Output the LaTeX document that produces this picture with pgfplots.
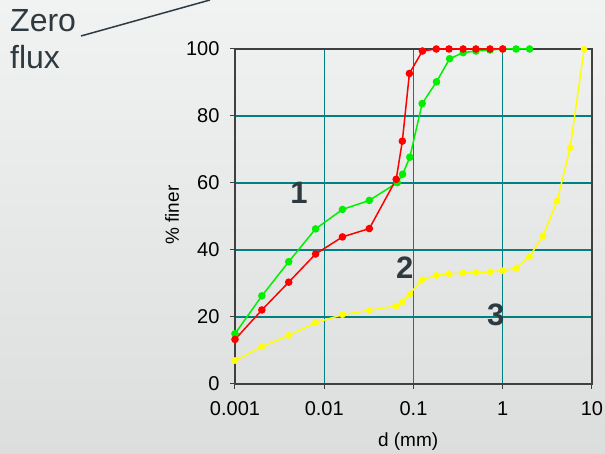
\documentclass[border=0pt]{standalone}
\usepackage{pgfplots}
\pgfplotsset{compat=1.18}
\usepackage{fontspec}
\setmainfont{Liberation Sans}
\definecolor{bgtop}{HTML}{F1F2F2}
\definecolor{bgbot}{HTML}{DCDDDD}
\definecolor{gridc}{HTML}{008080}
\definecolor{txt}{HTML}{2E3A40}
\definecolor{axisc}{HTML}{404040}
\definecolor{gr}{HTML}{00F000}
\definecolor{rd}{HTML}{FF0000}
\definecolor{yl}{HTML}{FFFF00}
\begin{document}
\begin{tikzpicture}
\shade[top color=bgtop,bottom color=bgbot] (0pt,0pt) rectangle (605pt,454pt);
\useasboundingbox (0pt,0pt) rectangle (605pt,454pt);
\node[anchor=base west,font=\fontsize{32}{38}\selectfont,text=txt,inner sep=0pt] at (10pt,422pt) {Zero};
\node[anchor=base west,font=\fontsize{32}{38}\selectfont,text=txt,inner sep=0pt] at (10pt,385pt) {flux};
\draw[line width=1.5pt, txt] (81pt,418pt) -- (210pt,454pt);
\begin{axis}[
  at={(235pt,70pt)}, anchor=south west,
  scale only axis, width=357pt, height=335pt,
  xmode=log, log basis x=10,
  xmin=0.001, xmax=10, ymin=0, ymax=100,
  xtick={0.001,0.01,0.1,1,10},
  xticklabels={0.001,0.01,0.1,1,10},
  ytick={0,20,40,60,80,100},
  minor tick length=0pt,
  xtick pos=bottom, ytick pos=left,
  tick align=outside, major tick length=5pt,
  tick style={color=axisc, line width=1pt},
  grid=major, grid style={gridc, line width=1.2pt},
  axis line style={axisc, line width=1.5pt},
  ticklabel style={font=\fontsize{20}{24}\selectfont, text=black},
  xticklabel style={yshift=-9pt},
  yticklabel style={xshift=-7pt},
  /pgf/number format/assume math mode=true,
  xlabel={d (mm)}, ylabel={\% finer},
  label style={font=\fontsize{19}{23}\selectfont, text=black},
  xlabel style={at={(axis description cs:0.485,-0.172)}, anchor=center},
  ylabel style={at={(axis description cs:-0.176,0.504)}, anchor=center},
  clip=false,
]
\addplot[yl, line width=1.5pt, mark=*, mark size=2.6pt, mark options={solid,fill=yl,draw=yl}] coordinates {
(0.001,7.0)(0.002,11.1)(0.004,14.5)(0.008,18.3)(0.016,20.7)(0.032,22.0)(0.0646,23.3)(0.0755,24.5)(0.091,26.9)(0.124,31.1)(0.18,32.4)(0.25,32.9)(0.36,33.1)(0.5,33.3)(0.72,33.5)(1,33.8)(1.42,34.6)(2,38.1)(2.83,44.2)(4.06,54.6)(5.69,70.5)(8.16,99.9)
};
\addplot[gr, line width=1.5pt, mark=*, mark size=3pt, mark options={solid,fill=gr,draw=gr}] coordinates {
(0.001,15)(0.002,26.3)(0.004,36.5)(0.008,46.3)(0.016,52.1)(0.032,54.8)(0.0658,60.1)(0.0755,62.6)(0.091,67.7)(0.125,83.7)(0.181,90.2)(0.254,97.1)(0.36,98.9)(0.5,99.4)(0.72,99.7)(1,100)(1.41,100)(2,100)
};
\addplot[rd, line width=1.5pt, mark=*, mark size=3pt, mark options={solid,fill=rd,draw=rd}] coordinates {
(0.001,13.3)(0.002,22.1)(0.004,30.4)(0.008,38.8)(0.016,43.9)(0.032,46.4)(0.064,61.1)(0.075,72.5)(0.090,92.7)(0.126,99.4)(0.18,100)(0.25,100)(0.36,100)(0.5,100)(0.72,100)(1,100)
};
\node[font=\fontsize{31}{36}\selectfont\bfseries, text=txt] at (axis cs:0.0052,57) {1};
\node[font=\fontsize{31}{36}\selectfont\bfseries, text=txt] at (axis cs:0.080,34.6) {2};
\node[font=\fontsize{31}{36}\selectfont\bfseries, text=txt] at (axis cs:0.837,20.6) {3};
\end{axis}
\end{tikzpicture}
\end{document}
